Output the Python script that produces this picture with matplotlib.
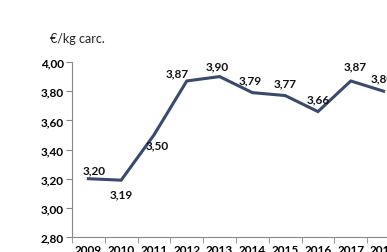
import matplotlib.pyplot as plt

years = ['2009', '2010', '2011', '2012', '2013', '2014', '2015', '2016', '2017', '2018']
prices = [3.20, 3.19, 3.50, 3.87, 3.90, 3.79, 3.77, 3.66, 3.87, 3.80]
yticks = [2.80, 3.00, 3.20, 3.40, 3.60, 3.80, 4.00]
# label offsets in points (dx, dy)
offsets = [(4, 6.5), (0, -10), (2, -7), (-7, 6), (-1.5, 7.5), (-1.5, 9), (0, 9), (0, 9.5), (3.5, 11), (-1, 9.5)]

plt.rcParams['font.family'] = ['Lato', 'DejaVu Sans']
fig = plt.figure(figsize=(3.87, 2.53), dpi=100)
ax = fig.add_axes([0.186, 0.059, 0.8475, 0.692])

x = list(range(len(years)))
ax.plot(x, prices, color='#3a4a6e', linewidth=2.2, solid_joinstyle='miter')
for xi, v, (dx, dy) in zip(x, prices, offsets):
    ax.annotate(f'{v:.2f}'.replace('.', ','), (xi, v), xytext=(dx, dy),
                textcoords='offset points', ha='center', va='center',
                fontsize=8.5, fontweight='bold', color='#111111')

ax.set_xlim(-0.5, 9.5)
ax.set_ylim(2.80, 4.00)
ax.set_yticks(yticks)
ax.set_yticklabels([f'{t:.2f}'.replace('.', ',') for t in yticks],
                   fontsize=8.5, fontweight='bold')
ax.set_xticks(x)
ax.set_xticklabels(years, fontsize=8.5, fontweight='bold')
ax.set_xticks([i + 0.5 for i in range(-1, 10)], minor=True)
ax.tick_params(axis='x', which='major', length=0, pad=5)
ax.tick_params(axis='x', which='minor', length=4, direction='out', color='#888888')
ax.tick_params(axis='y', length=4, direction='out', color='#888888', pad=2)
for s in ['top', 'right']:
    ax.spines[s].set_visible(False)
ax.spines['left'].set_color('#888888')
ax.spines['bottom'].set_color('#888888')

fig.text(0.128, 0.83, '€/kg carc.', fontsize=9, color='#222222')

fig.savefig('out.png', dpi=100, facecolor='white')
